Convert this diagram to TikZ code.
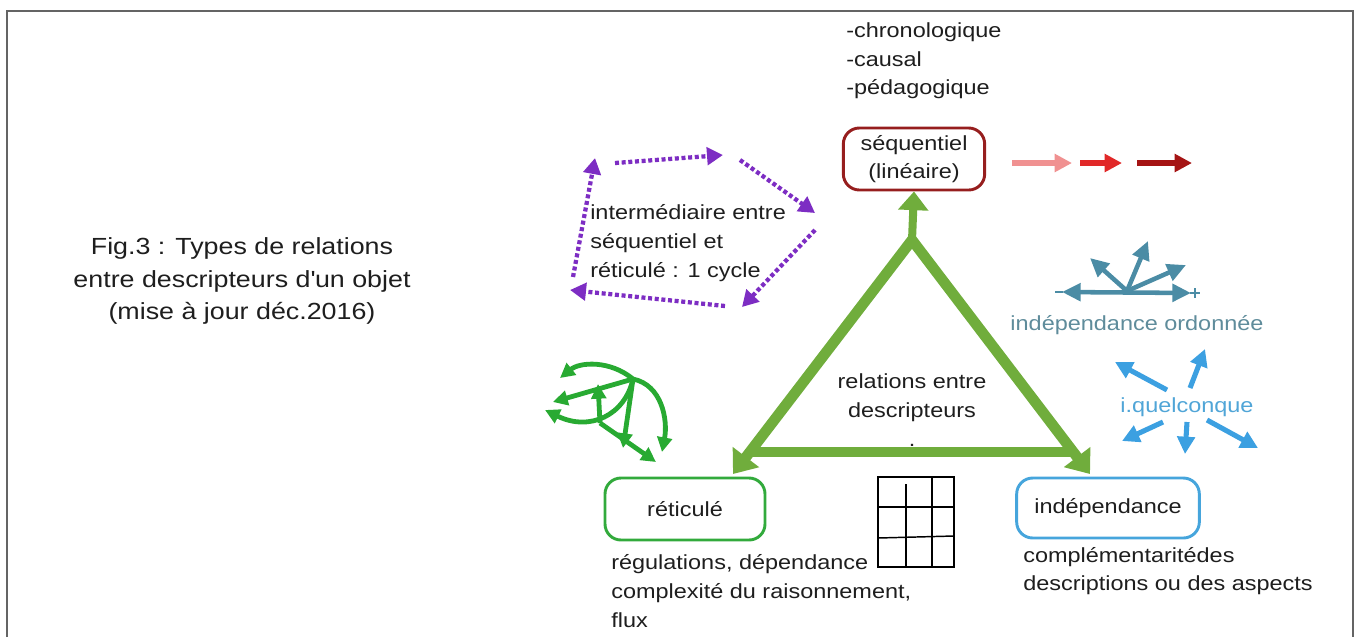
\documentclass[tikz,border=0pt]{standalone}
\usepackage{fontspec}
\setmainfont{Liberation Sans}[FakeStretch=1.15]
\usetikzlibrary{arrows.meta}

\definecolor{framegray}{RGB}{100,100,100}
\definecolor{seqred}{RGB}{150,30,30}
\definecolor{retgreen}{RGB}{50,170,60}
\definecolor{indblue}{RGB}{70,165,220}
\definecolor{trigreen}{RGB}{112,173,60}
\definecolor{cycpurple}{RGB}{125,45,195}
\definecolor{netgreen}{RGB}{40,170,50}
\definecolor{ordteal}{RGB}{75,140,165}
\definecolor{ordtext}{RGB}{95,140,155}
\definecolor{quelblue}{RGB}{60,160,225}
\definecolor{queltext}{RGB}{80,165,215}
\definecolor{pinkred}{RGB}{240,145,145}
\definecolor{midred}{RGB}{225,40,40}
\definecolor{darkred}{RGB}{165,20,20}
\definecolor{txt}{RGB}{30,30,30}

\tikzset{
	lbl/.style={text=txt,inner sep=0pt,font=\fontsize{15.3}{21.5}\selectfont},
	box/.style={draw,line width=2.2pt,rounded corners=12pt,text=txt,font=\fontsize{15.3}{21.5}\selectfont,align=center},
	tri/.style={draw=trigreen,line width=8pt},
	cyc/.style={draw=cycpurple,line width=3.2pt,dash pattern=on 3pt off 2pt,-{Triangle[length=12pt,width=13pt]}},
	net/.style={draw=netgreen,line width=3.6pt,-{Triangle[length=11pt,width=11pt]}},
	ord/.style={draw=ordteal,line width=3.4pt,-{Triangle[length=14pt,width=13pt]}},
	quel/.style={draw=quelblue,line width=3.8pt,-{Triangle[length=13pt,width=13pt]}},
	redarr/.style={line width=4pt,-{Triangle[length=13pt,width=13pt]}}
}

\begin{document}
\begin{tikzpicture}[x=0.75pt,y=-0.75pt]
		\useasboundingbox (0,0) rectangle (1359,637);
		\draw[framegray,line width=1.5pt] (7,637) -- (7,11) -- (1353,11) -- (1353,637);

		% texts and boxes
		\draw
		node[lbl,align=center,font=\fontsize{17.5}{24.4}\selectfont] (fig) at (242,281){Fig.3 : Types de relations\\entre descripteurs d\textquotesingle un objet\\(mise à jour déc.2016)}
		node[lbl,align=left,anchor=west] (seq_list) at (846,61){-chronologique\\-causal\\-pédagogique}
		node[box,draw=seqred,minimum width=106pt,minimum height=46.5pt] (seq) at (914,159){séquentiel\\(linéaire)}
		node[box,draw=retgreen,minimum width=120pt,minimum height=46.5pt] (ret) at (685,509){réticulé}
		node[box,draw=indblue,minimum width=137pt,minimum height=45pt] (ind) at (1108,508){indépendance}
		node[lbl,align=left,anchor=west] (cyc_txt) at (590,243){intermédiaire entre\\séquentiel et\\réticulé : 1 cycle}
		node[lbl,align=center] (rel) at (912,410){relations entre\\descripteurs\\.}
		node[lbl,align=left,anchor=west] (ret_txt) at (611,591){régulations, dépendance\\complexité du raisonnement,\\flux}
		node[lbl,align=left,anchor=west] (ind_txt) at (1023,571){complémentaritédes\\descriptions ou des aspects}
		node[lbl,text=ordtext] (ord_txt) at (1137,325){indépendance ordonnée}
		node[lbl,text=queltext] (quel_txt) at (1187,407){i.quelconque};

		% triangle of relations
		\coordinate (apex) at (912,240);
		\coordinate (ret_tip) at (733,474);
		\coordinate (ind_tip) at (1090,474);
		\draw[tri,line join=miter,{Triangle[length=16pt,width=24pt]}-{Triangle[length=16pt,width=24pt]}] (ret_tip) -- (apex) -- (ind_tip);
		\draw[tri] (752,452) -- (1072,452);
		\draw[tri,line width=6pt,-{Triangle[length=14pt,width=22pt]}] (apex) -- (seq.south);

		% sequential arrows
		\draw[redarr,pinkred] (1012,163) -- (1072,163);
		\draw[redarr,midred] (1080,163) -- (1122,163);
		\draw[redarr,darkred] (1137,163) -- (1192,163);

		% cycle
		\draw[cyc] (615,163) -- (723,155);
		\draw[cyc] (740,160) -- (815,213);
		\draw[cyc] (815,230) -- (742,307);
		\draw[cyc] (725,306) -- (570,290);
		\draw[cyc] (573,277) -- (595,158);

		% network
		\coordinate (hub) at (633,379);
		\coordinate (knot) at (600,423);
		\draw[net] (hub) .. controls (610,360) and (580,362) .. (560,378);
		\draw[net] (hub) -- (553,402);
		\draw[net] (knot) -- (598,384);
		\draw[net] (hub) .. controls (625,415) and (590,432) .. (545,410);
		\draw[net] (hub) -- (623,448);
		\draw[net] (hub) .. controls (662,385) and (668,420) .. (662,452);
		\draw[net] (knot) -- (656,462);

		% ordered independence
		\coordinate (fan) at (1127,291);
		\draw[ord,{Triangle[length=14pt,width=13pt]}-{Triangle[length=14pt,width=13pt]}] (1062,292) -- (1191,293);
		\draw[ordteal,line width=2pt] (1055,292) -- (1063,292);
		\draw[ordteal,line width=1.5pt] (1190,293) -- (1200,293) (1195,288) -- (1195,298);
		\draw[ord] (fan) -- (1090,258);
		\draw[ord] (fan) -- (1148,241);
		\draw[ord] (fan) -- (1186,265);

		% any independence
		\draw[quel] (1167,390) -- (1115,362);
		\draw[quel] (1190,388) -- (1205,349);
		\draw[quel] (1163,422) -- (1122,441);
		\draw[quel] (1187,422) -- (1185,454);
		\draw[quel] (1207,420) -- (1258,448);

		% grid
		\draw[line width=1.1pt] (878,477) rectangle (954,567);
		\draw[line width=1.1pt] (906,484) -- (906,567);
		\draw[line width=1.1pt] (932,477) -- (932,567);
		\draw[line width=1.1pt] (878,507) -- (954,507);
		\draw[line width=1.1pt] (878,538) -- (954,536);
\end{tikzpicture}
\end{document}
